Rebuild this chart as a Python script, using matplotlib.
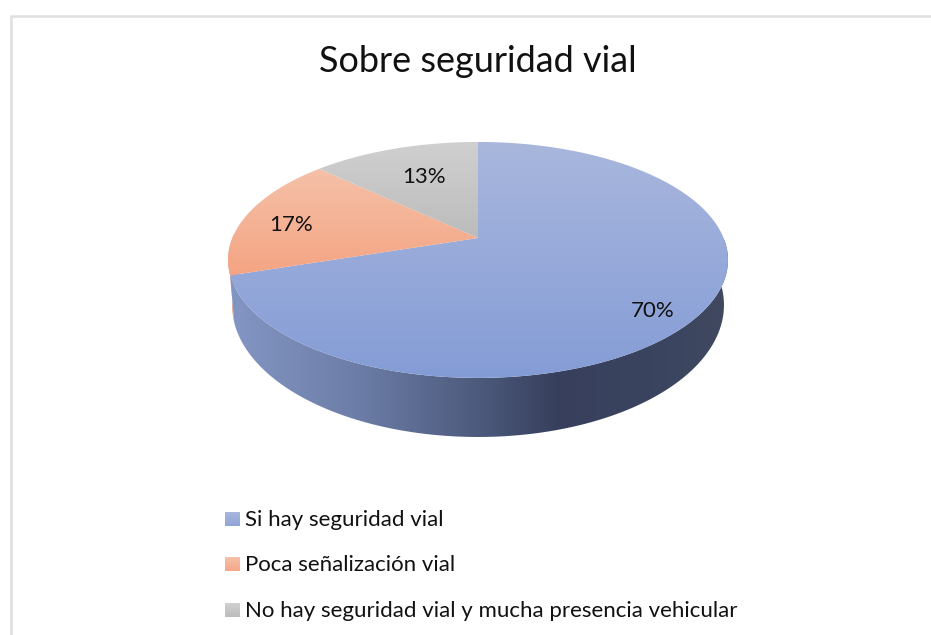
import matplotlib
matplotlib.use('Agg')
import matplotlib.pyplot as plt
from matplotlib.colors import LinearSegmentedColormap
from matplotlib.patches import Polygon, Rectangle
import numpy as np

plt.rcParams['font.family'] = ['Lato', 'DejaVu Sans']

title = 'Sobre seguridad vial'
categories = ['Si hay seguridad vial', 'Poca señalización vial',
              'No hay seguridad vial y mucha presencia vehicular']
values = [70, 17, 13]
labels = ['70%', '17%', '13%']
label_pos = [(653, 311), (291, 225), (424, 177)]
top_colors = [('#a9b7dd', '#849cd6', 142, 378),
              ('#f5c1a9', '#f4a482', 168, 276),
              ('#d0d0d0', '#bbbbbb', 142, 240)]
legend_colors = [('#a9b7dd', '#8fa4d8'), ('#f6c0a8', '#f4a886'), ('#d0d0d0', '#bcbcbc')]
side_stops = [(0.0, '#8496c4'), (0.25, '#6d7ea8'), (0.5, '#4c5a7c'),
              (0.66, '#373f5c'), (0.85, '#3b445f'), (1.0, '#40495f')]

# perspective of the tilted disc, in pixels of the picture
CX, CY = 478, 238
A, B, K = 113.9, 245.6, 0.186


def project(theta, sx=1.0, sy=1.0, shift=0.0):
    # theta runs clockwise from the top of the pie
    u = np.sin(theta)
    v = np.cos(theta)
    w = 1 + K * v
    return CX + sx * B * u / w, CY - sy * A * v / w + shift


def gradient(ax, poly, c0, c1, y0, y1, z):
    cmap = LinearSegmentedColormap.from_list('g', [c0, c1])
    im = ax.imshow(np.linspace(0, 1, 256).reshape(-1, 1), cmap=cmap, aspect='auto',
                   extent=(0, 931, y1, y0), interpolation='bilinear', zorder=z)
    ax.add_patch(poly)
    im.set_clip_path(poly)


fig = plt.figure(figsize=(9.31, 6.35), dpi=100)
ax = fig.add_axes([0, 0, 1, 1])

# frame of the chart
ax.plot([11, 11, 931], [635, 15.5, 15.5], color='#dfdfdf', lw=1.8, solid_joinstyle='miter')

# angles of the slices
edges = np.cumsum([0] + values) / sum(values) * 2 * np.pi

# side wall: the orange sliver first, then the blue wall
WALL_SX, WALL_SY, WALL_SHIFT = 0.984, 1.119, 42.4
th = np.linspace(edges[1], np.radians(272), 40)
xt, yt = project(th)
xb, yb = project(th[::-1], WALL_SX, WALL_SY, WALL_SHIFT)
ax.add_patch(Polygon(np.c_[np.r_[xt, xb], np.r_[yt, yb]], closed=True, fc='#d9a68e', ec='none', zorder=1))

th = np.linspace(np.radians(60), edges[1], 240)
xt, yt = project(th)
xb, yb = project(th[::-1], WALL_SX, WALL_SY, WALL_SHIFT)
side = Polygon(np.c_[np.r_[xt, xb], np.r_[yt, yb]], closed=True, fc='none', ec='none')
side_cmap = LinearSegmentedColormap.from_list('side', side_stops)
im = ax.imshow(np.linspace(0, 1, 512).reshape(1, -1), cmap=side_cmap, aspect='auto',
               extent=(228, 728, 450, 240), interpolation='bilinear', zorder=2)
ax.add_patch(side)
im.set_clip_path(side)

# top face
for i in range(len(values)):
    th = np.linspace(edges[i], edges[i + 1], 300)
    x, y = project(th)
    pts = np.r_[[[CX, CY]], np.c_[x, y]]
    poly = Polygon(pts, closed=True, fc='none', ec='none')
    gradient(ax, poly, *top_colors[i], 3)
    ax.text(label_pos[i][0], label_pos[i][1], labels[i], fontsize=16, color='#111111',
            ha='center', va='center', zorder=5)

ax.text(478, 62, title, fontsize=25.9, color='#111111', ha='center', va='center')

# legend
legend_y = [520, 565, 611]
for name, (c0, c1), ly in zip(categories, legend_colors, legend_y):
    swatch = Rectangle((225, ly - 8), 15, 14, fc='none', ec='none')
    gradient(ax, swatch, c0, c1, ly - 8, ly + 6, 3)
    ax.text(245, ly, name, fontsize=16, color='#111111', ha='left', va='center')

ax.set_xlim(0, 931)
ax.set_ylim(635, 0)
ax.axis('off')

plt.savefig('out.png', dpi=100)
